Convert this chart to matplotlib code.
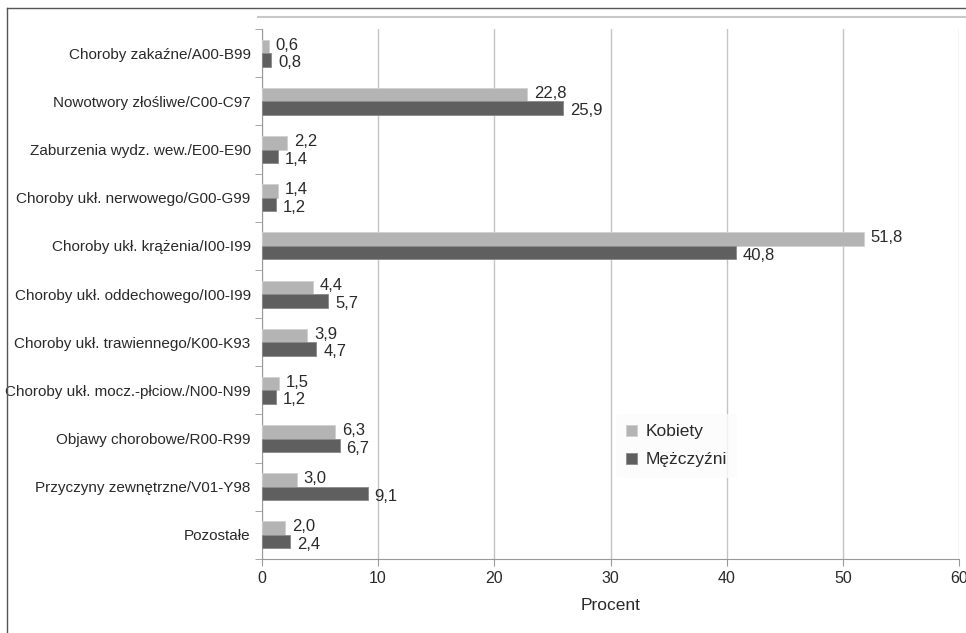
import matplotlib.pyplot as plt
import numpy as np
from matplotlib.lines import Line2D

plt.rcParams['font.family'] = ['Liberation Sans', 'DejaVu Sans']

categories = [
    'Choroby zakaźne/A00-B99',
    'Nowotwory złośliwe/C00-C97',
    'Zaburzenia wydz. wew./E00-E90',
    'Choroby ukł. nerwowego/G00-G99',
    'Choroby ukł. krążenia/I00-I99',
    'Choroby ukł. oddechowego/I00-I99',
    'Choroby ukł. trawiennego/K00-K93',
    'Choroby ukł. mocz.-płciow./N00-N99',
    'Objawy chorobowe/R00-R99',
    'Przyczyny zewnętrzne/V01-Y98',
    'Pozostałe',
]
kobiety = [0.6, 22.8, 2.2, 1.4, 51.8, 4.4, 3.9, 1.5, 6.3, 3.0, 2.0]
mezczyzni = [0.8, 25.9, 1.4, 1.2, 40.8, 5.7, 4.7, 1.2, 6.7, 9.1, 2.4]
xticks = [0, 10, 20, 30, 40, 50, 60]

c_k = '#b4b4b4'
c_m = '#5f5f5f'
txt = '#2a2a2a'

fig = plt.figure(figsize=(9.66, 6.33), dpi=100)
ax = fig.add_axes([0.271, 0.117, 0.722, 0.837])

y = np.arange(len(categories))
h = 0.28
bk = ax.barh(y - h / 2, kobiety, height=h, color=c_k, edgecolor='#d0d0d0', linewidth=0.6, zorder=3)
bm = ax.barh(y + h / 2, mezczyzni, height=h, color=c_m, edgecolor='#8a8a8a', linewidth=0.6, zorder=3)

def fmt(v):
    return f'{v:.1f}'.replace('.', ',')

for yy, v in zip(y - h / 2, kobiety):
    ax.annotate(fmt(v), (v, yy), xytext=(5, 1), textcoords='offset points',
                va='center', ha='left', fontsize=12, color=txt)
for yy, v in zip(y + h / 2, mezczyzni):
    ax.annotate(fmt(v), (v, yy), xytext=(5, -2), textcoords='offset points',
                va='center', ha='left', fontsize=12, color=txt)

ax.set_xlim(0, 60)
ax.set_ylim(len(categories) - 0.5, -0.5)
ax.set_xticks(xticks)
ax.set_xticklabels([str(t) for t in xticks], fontsize=11.5, color=txt)
ax.set_yticks(y)
ax.set_yticklabels(categories, fontsize=11, color=txt)
ax.tick_params(axis='y', length=0, pad=8)
ax.set_yticks(np.arange(len(categories) + 1) - 0.5, minor=True)
ax.tick_params(axis='y', which='minor', length=5, color='#999999')
ax.tick_params(axis='x', length=5, color='#999999', pad=4)
ax.grid(axis='x', color='#c4c4c4', linewidth=1.0, zorder=0)
ax.set_axisbelow(True)
for s in ['top', 'right']:
    ax.spines[s].set_visible(False)
for s in ['left', 'bottom']:
    ax.spines[s].set_color('#999999')
ax.set_xlabel('Procent', fontsize=12.5, color=txt, labelpad=8)

leg = ax.legend([bk, bm], ['Kobiety', 'Mężczyźni'], loc='upper left',
                bbox_to_anchor=(0.495, 0.29), frameon=True, fontsize=12.5,
                handlelength=0.6, handleheight=0.6, handletextpad=0.5,
                labelspacing=0.75, borderpad=0.6)
leg.get_frame().set_facecolor('#fcfcfc')
leg.get_frame().set_edgecolor('none')
for t in leg.get_texts():
    t.set_color(txt)

# decorative frame lines
fig.add_artist(Line2D([0.007, 1.0], [0.987, 0.987], color='#555555', linewidth=1.0))
fig.add_artist(Line2D([0.007, 0.007], [0.0, 0.987], color='#555555', linewidth=1.0))
fig.add_artist(Line2D([0.267, 1.0], [0.973, 0.973], color='#c8c8c8', linewidth=1.5))

fig.savefig('out.png', dpi=100)
